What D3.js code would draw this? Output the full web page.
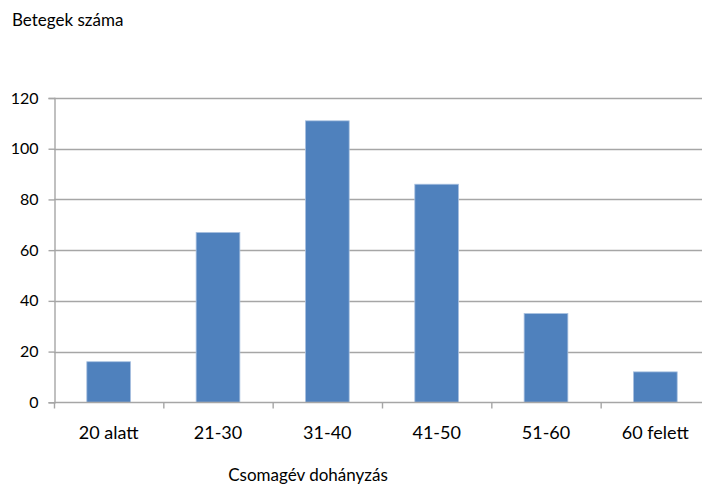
<!DOCTYPE html>
<html>
<head>
<meta charset="utf-8">
<script src="https://cdn.jsdelivr.net/npm/d3@7"></script>
<style>
  html, body { margin: 0; padding: 0; background: #fff; }
  svg { display: block; font-family: Lato, "Open Sans", sans-serif; }
</style>
</head>
<body>
<svg id="chart" width="702" height="491"></svg>
<script>
const categories = ["20 alatt", "21-30", "31-40", "41-50", "51-60", "60 felett"];
const patients = [16, 67, 111, 86, 35, 12];
const yTicks = [0, 20, 40, 60, 80, 100, 120];

const svg = d3.select("#chart");
const plotLeft = 54, plotRight = 710, plotTop = 98, plotBottom = 402.3;

const x = d3.scaleBand().domain(categories).range([plotLeft, plotRight]).paddingInner(0.6).paddingOuter(0.3);
const y = d3.scaleLinear().domain([0, 120]).range([plotBottom, plotTop]);

// horizontal gridlines
svg.append("g").selectAll("line").data(yTicks.slice(1)).join("line")
  .attr("x1", plotLeft).attr("x2", plotRight)
  .attr("y1", d => Math.round(y(d)) + 0.5).attr("y2", d => Math.round(y(d)) + 0.5)
  .attr("stroke", "#a6a6a6").attr("stroke-width", 1.4);

// bars
svg.append("g").selectAll("rect").data(patients).join("rect")
  .attr("x", (d, i) => x(categories[i]))
  .attr("y", d => y(d))
  .attr("width", x.bandwidth())
  .attr("height", d => y(0) - y(d))
  .attr("fill", "#4f81bd")
  .attr("stroke", "#a9c1e0").attr("stroke-width", 0.8);

// y axis
const yAxis = svg.append("g").attr("transform", `translate(${plotLeft + 0.5},0)`)
  .call(d3.axisLeft(y).tickValues(yTicks).tickSize(6).tickPadding(10));
yAxis.select(".domain").attr("stroke", "#a6a6a6").attr("stroke-width", 1.4);
yAxis.selectAll(".tick line").attr("stroke", "#a6a6a6").attr("stroke-width", 1.4);
yAxis.selectAll(".tick text").attr("font-size", 16).attr("fill", "#000").attr("font-family", "Lato, sans-serif");

// x axis with category separators
const xAxis = svg.append("g").attr("transform", `translate(0,${Math.round(plotBottom) + 0.5})`);
xAxis.append("line").attr("x1", plotLeft).attr("x2", plotRight).attr("stroke", "#a6a6a6").attr("stroke-width", 1.4);
xAxis.selectAll(".xt").data(d3.range(categories.length + 1)).join("line").attr("class", "xt")
  .attr("x1", i => plotLeft + 0.5 + i * x.step())
  .attr("x2", i => plotLeft + 0.5 + i * x.step())
  .attr("y1", 0).attr("y2", 6)
  .attr("stroke", "#a6a6a6").attr("stroke-width", 1.4);
xAxis.selectAll("text").data(categories).join("text")
  .attr("x", d => x(d) + x.bandwidth() / 2)
  .attr("y", 36)
  .attr("text-anchor", "middle")
  .attr("font-size", 18).attr("fill", "#000")
  .text(d => d);

// titles
svg.append("text").attr("x", 12).attr("y", 26).attr("font-size", 17).attr("fill", "#000").text("Betegek száma");
svg.append("text").attr("x", 308).attr("y", 481).attr("text-anchor", "middle").attr("font-size", 17).attr("fill", "#000").text("Csomagév dohányzás");
</script>
</body>
</html>
